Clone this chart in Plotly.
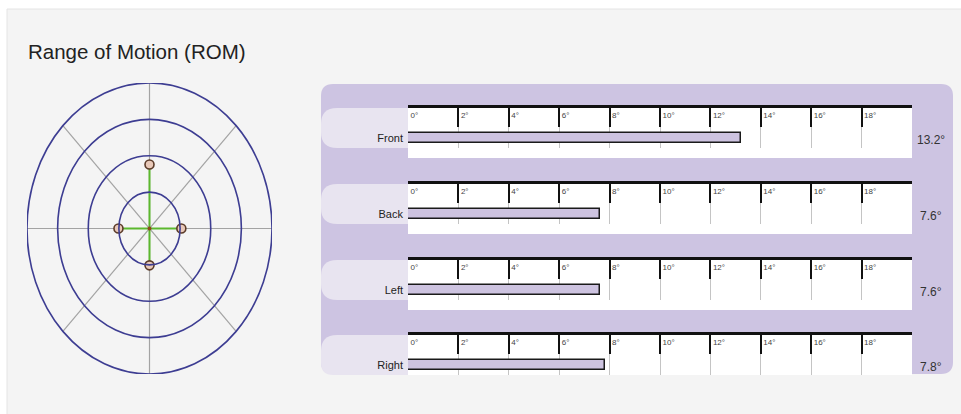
import numpy as np
import plotly.graph_objects as go

W, H = 961, 414

# ---- data ----
directions = ["Front", "Back", "Left", "Right"]
rom_values = [13.2, 7.6, 7.6, 7.8]
direction_angles = [90, 270, 180, 0]          # where each direction points on the target
tick_values = [0, 2, 4, 6, 8, 10, 12, 14, 16, 18]
tick_labels = [f"{v}°" for v in tick_values]
ring_radii = [7.5, 15, 22.5, 30]
spoke_angles = [0, 45, 90, 135]
title_text = "Range of Motion (ROM)"

FONT = "Liberation Sans, Arial, sans-serif"
PURPLE = "#cdc4e2"
TAB = "#e8e4f0"
BAR_FILL = "#cdc3e0"


def X(p):
    return p / W


def Y(p):
    return 1 - p / H


def rpath(x0, y0, x1, y1, tl=0, tr=0, br=0, bl=0):
    pts = [f"M {X(x0 + tl)},{Y(y0)}", f"L {X(x1 - tr)},{Y(y0)}"]
    if tr:
        pts.append(f"Q {X(x1)},{Y(y0)} {X(x1)},{Y(y0 + tr)}")
    pts.append(f"L {X(x1)},{Y(y1 - br)}")
    if br:
        pts.append(f"Q {X(x1)},{Y(y1)} {X(x1 - br)},{Y(y1)}")
    pts.append(f"L {X(x0 + bl)},{Y(y1)}")
    if bl:
        pts.append(f"Q {X(x0)},{Y(y1)} {X(x0)},{Y(y1 - bl)}")
    pts.append(f"L {X(x0)},{Y(y0 + tl)}")
    if tl:
        pts.append(f"Q {X(x0)},{Y(y0)} {X(x0 + tl)},{Y(y0)}")
    pts.append("Z")
    return " ".join(pts)


fig = go.Figure()
shapes = []
annotations = []

# page background panel
shapes.append(dict(type="rect", xref="paper", yref="paper", x0=X(7), x1=X(962), y0=Y(415), y1=Y(9),
                   fillcolor="#f4f4f4", line=dict(color="#e4e4e4", width=1), layer="below"))

# ---- target (polar-like) plot on x/y ----
R = ring_radii[-1]
for r in ring_radii:
    shapes.append(dict(type="circle", xref="x", yref="y", x0=-r, x1=r, y0=-r, y1=r,
                       line=dict(color="#3d3d92", width=1.6), layer="above"))
for a in spoke_angles:
    t = np.deg2rad(a)
    shapes.append(dict(type="line", xref="x", yref="y",
                       x0=-R * np.cos(t), x1=R * np.cos(t), y0=-R * np.sin(t), y1=R * np.sin(t),
                       line=dict(color="#a3a3a3", width=1.2), layer="below"))

ang = np.deg2rad(direction_angles)
px_ = np.array(rom_values) * np.cos(ang)
py_ = np.array(rom_values) * np.sin(ang)
for xx, yy in zip(px_, py_):
    fig.add_trace(go.Scatter(x=[0, xx], y=[0, yy], mode="lines",
                             line=dict(color="#5cb82e", width=2), hoverinfo="skip",
                             showlegend=False, xaxis="x", yaxis="y"))
fig.add_trace(go.Scatter(x=px_, y=py_, mode="markers",
                         marker=dict(size=9, color="#e8c8b8", line=dict(color="#5a3a28", width=1.6)),
                         showlegend=False, xaxis="x", yaxis="y", text=directions))
fig.add_trace(go.Scatter(x=[0], y=[0], mode="markers", marker=dict(size=4, color="#8b4a1a"),
                         showlegend=False, xaxis="x", yaxis="y", hoverinfo="skip"))

layout = dict(
    xaxis=dict(domain=[X(27), X(272)], range=[-R, R], visible=False, fixedrange=True),
    yaxis=dict(domain=[Y(374), Y(83)], range=[-R, R], visible=False, fixedrange=True),
)

# ---- bar panel ----
shapes.append(dict(type="path", xref="paper", yref="paper",
                   path=rpath(321, 84, 953, 374, 12, 12, 12, 12),
                   fillcolor=PURPLE, line=dict(width=0), layer="below"))

row_tops = [108, 184, 260, 335]
for i, (name, val, T) in enumerate(zip(directions, rom_values, row_tops)):
    k = i + 2
    last = i == len(directions) - 1
    # tab
    shapes.append(dict(type="path", xref="paper", yref="paper",
                       path=rpath(321, T, 412, T + 40, 16, 0, 0, 12 if last else 16),
                       fillcolor=TAB, line=dict(width=0), layer="below"))
    # white chart area
    shapes.append(dict(type="rect", xref="paper", yref="paper",
                       x0=X(408), x1=X(912), y0=Y(T + (40 if last else 50)), y1=Y(T),
                       fillcolor="white", line=dict(width=0), layer="below"))
    layout[f"xaxis{k}"] = dict(
        domain=[X(408), X(912)], anchor=f"y{k}", range=[0, 20], side="top",
        tickvals=tick_values, ticktext=tick_labels, ticks="inside", ticklen=19, tickwidth=2,
        tickcolor="#111", showline=True, linecolor="#111", linewidth=3,
        showgrid=True, gridcolor="#c4c4c4", gridwidth=1, zeroline=False,
        ticklabelposition="inside right", tickfont=dict(size=8, color="#444", family=FONT),
        fixedrange=True)
    layout[f"yaxis{k}"] = dict(
        domain=[Y(T + 40), Y(T)], anchor=f"x{k}", range=[0, 1],
        tickvals=[0.25], ticktext=[name], ticks="", ticklabelstandoff=4,
        showline=False, showgrid=False,
        zeroline=False, tickfont=dict(size=11, color="#222", family=FONT), fixedrange=True)
    fig.add_trace(go.Bar(x=[val], y=[0.25], width=0.25, orientation="h",
                         marker=dict(color=BAR_FILL, line=dict(color="#1a1a1a", width=1.5)),
                         showlegend=False, xaxis=f"x{k}", yaxis=f"y{k}", name=name))
    annotations.append(dict(xref="paper", yref="paper", x=X(931), y=Y(T + 32),
                            text=f"{val}°", showarrow=False, xanchor="center", yanchor="middle",
                            font=dict(size=12, color="#333", family=FONT)))

annotations.append(dict(xref="paper", yref="paper", x=X(26), y=Y(51), text=title_text,
                        showarrow=False, xanchor="left", yanchor="middle",
                        font=dict(size=20.5, color="#222", family=FONT)))

fig.update_layout(
    width=W, height=H, margin=dict(l=0, r=0, t=0, b=0),
    paper_bgcolor="white", plot_bgcolor="rgba(0,0,0,0)",
    shapes=shapes, annotations=annotations, showlegend=False, bargap=0,
    font=dict(family=FONT), **layout,
)

fig.write_html("out.html", config={"displayModeBar": False},
               post_script="document.body.style.margin='0';document.body.style.overflow='hidden';")
